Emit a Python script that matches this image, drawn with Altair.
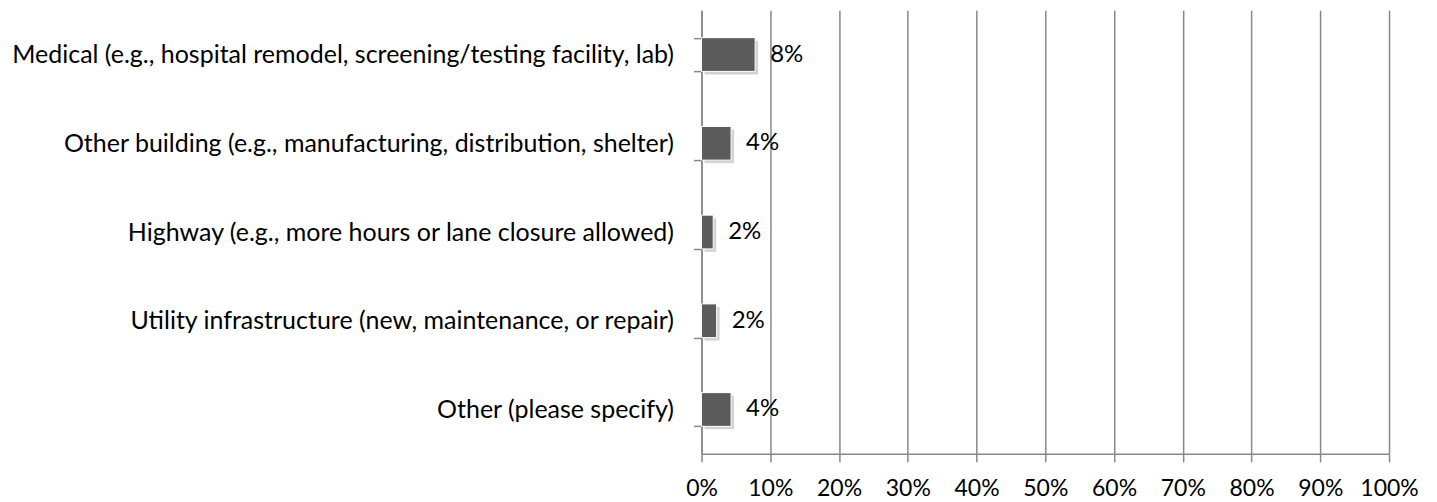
import altair as alt
import pandas as pd

categories = [
    "Medical (e.g., hospital remodel, screening/testing facility, lab)",
    "Other building (e.g., manufacturing, distribution, shelter)",
    "Highway (e.g., more hours or lane closure allowed)",
    "Utility infrastructure (new, maintenance, or repair)",
    "Other (please specify)",
]
values = [0.078, 0.043, 0.017, 0.022, 0.043]

df = pd.DataFrame({"cat": categories, "val": values})
FONT = "Lato"
FS = 25
FSX = 23

yenc = alt.Y("cat:N", sort=categories, title=None,
             scale=alt.Scale(paddingInner=0.62, paddingOuter=0.31),
             axis=alt.Axis(tickBand="extent", domainColor="#888888", tickColor="#888888",
                           tickSize=8, labelPadding=20, labelFont=FONT, labelFontSize=FS,
                           labelColor="black", labelLimit=800, grid=False, domainWidth=1.5, tickWidth=1.5))
xscale = alt.Scale(domain=[0, 1])
xenc = alt.X("val:Q", scale=xscale, title=None,
             axis=alt.Axis(format=".0%", values=[i / 10 for i in range(11)], tickSize=8,
                           tickColor="#888888", domainColor="#888888", gridColor="#888888",
                           grid=True, gridWidth=1.5, domainWidth=1.5, tickWidth=1.5,
                           labelFont=FONT, labelFontSize=FSX, labelColor="black", labelPadding=16,
                           labelFlush=False))

base = alt.Chart(df)
shadow = base.mark_bar(color="#c8c8c8", xOffset=3, yOffset=3, opacity=0.8).encode(x=xenc, y=yenc)
bars = base.mark_bar(color="#5b5b5b", stroke="white", strokeWidth=1).encode(x=xenc, y=yenc)
text = base.mark_text(align="left", baseline="middle", dx=15, font=FONT, fontSize=24, color="black").encode(
    x=xenc, y=yenc, text=alt.Text("val:Q", format=".0%"))

chart = (shadow + bars + text).properties(
    width=688, height=444,
    autosize=alt.AutoSizeParams(type="none"),
    padding={"left": 694, "top": 2, "right": 40, "bottom": 48},
).configure_view(stroke=None)

chart.save("out.html", embed_options={"renderer": "svg", "actions": False})
